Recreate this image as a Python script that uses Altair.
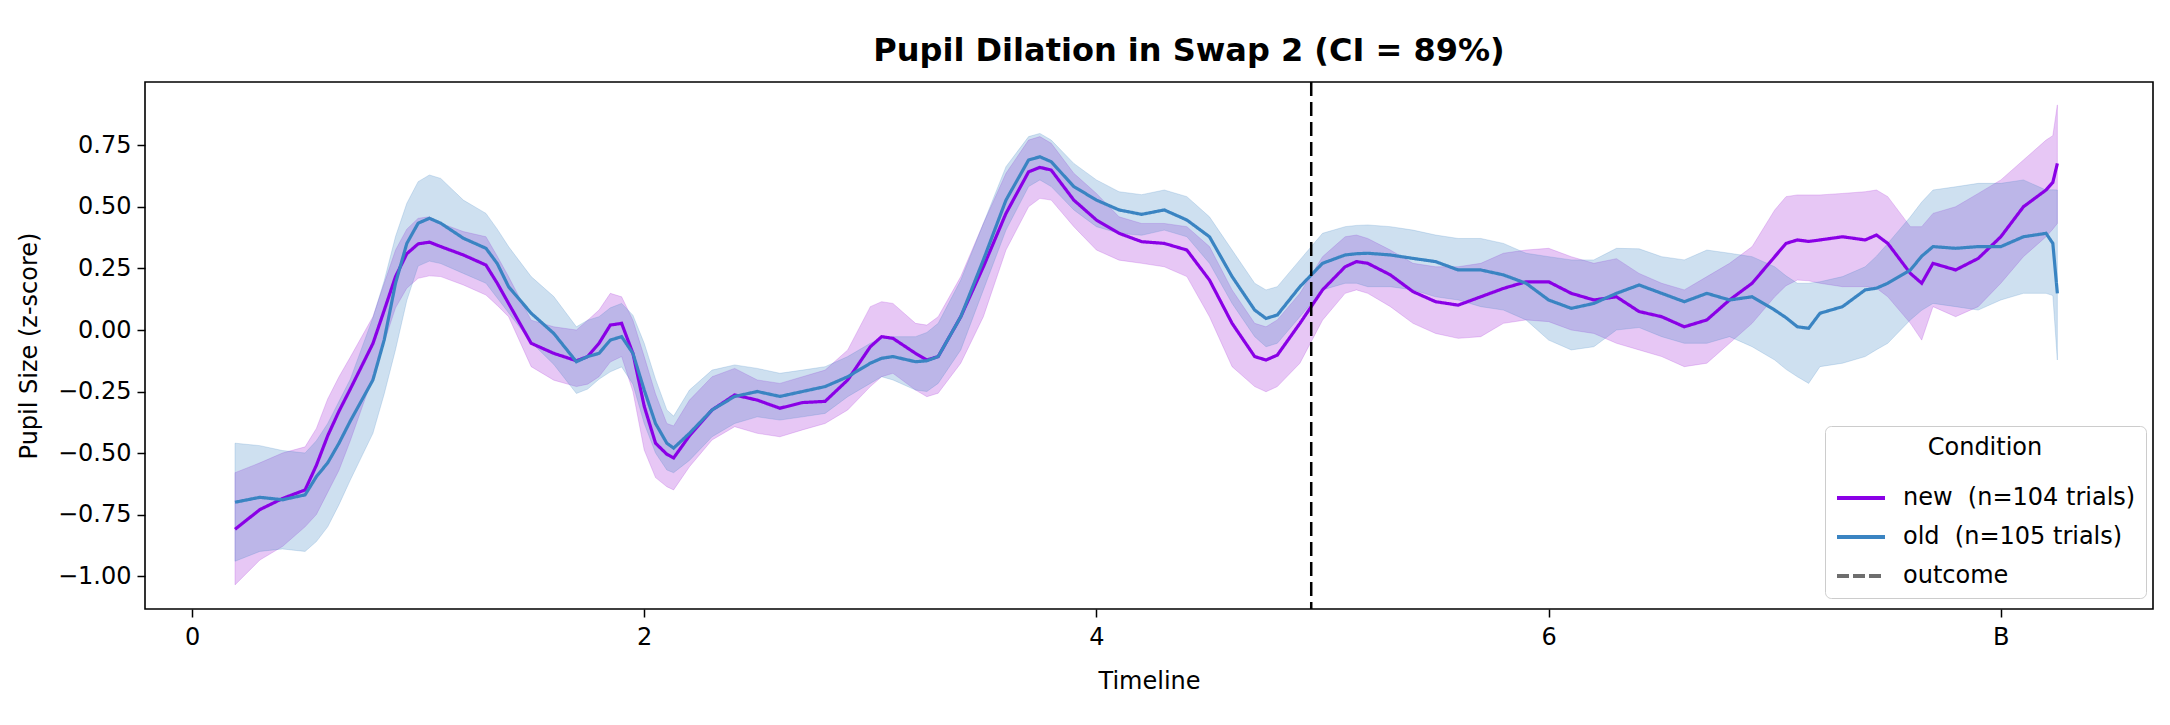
import altair as alt
import pandas as pd

# ---------------- data ----------------
T = [0.19, 0.3, 0.4, 0.5, 0.55, 0.6, 0.65, 0.7, 0.8, 0.85,
     0.9, 0.95, 1.0, 1.05, 1.1, 1.2, 1.3, 1.35, 1.4, 1.5,
     1.6, 1.7, 1.75, 1.8, 1.85, 1.9, 1.95, 2.0, 2.05, 2.1,
     2.13, 2.2, 2.3, 2.4, 2.5, 2.6, 2.7, 2.8, 2.9, 3.0,
     3.05, 3.1, 3.2, 3.25, 3.3, 3.4, 3.5, 3.6, 3.7, 3.75,
     3.8, 3.9, 4.0, 4.1, 4.2, 4.3, 4.4, 4.5, 4.6, 4.7,
     4.75, 4.8, 4.9, 5.0, 5.1, 5.15, 5.2, 5.3, 5.4, 5.5,
     5.6, 5.7, 5.8, 5.9, 6.0, 6.1, 6.2, 6.3, 6.4, 6.5,
     6.6, 6.7, 6.8, 6.9, 7.0, 7.05, 7.1, 7.15, 7.2, 7.3,
     7.4, 7.45, 7.5, 7.6, 7.65, 7.7, 7.8, 7.9, 8.0, 8.1,
     8.2, 8.23, 8.25]

new_mean = [-0.81, -0.73, -0.685, -0.65, -0.55, -0.43, -0.33, -0.24, -0.055, 0.08,
            0.217, 0.31, 0.35, 0.357, 0.339, 0.305, 0.264, 0.19, 0.108, -0.054,
            -0.095, -0.125, -0.108, -0.054, 0.02, 0.027, -0.095, -0.31, -0.46, -0.505,
            -0.52, -0.43, -0.325, -0.264, -0.285, -0.318, -0.295, -0.29, -0.203, -0.068,
            -0.027, -0.034, -0.095, -0.122, -0.108, 0.054, 0.257, 0.474, 0.643, 0.661,
            0.65, 0.528, 0.447, 0.393, 0.359, 0.352, 0.325, 0.203, 0.027, -0.108,
            -0.122, -0.102, 0.027, 0.163, 0.257, 0.278, 0.271, 0.224, 0.156, 0.115,
            0.101, 0.135, 0.169, 0.196, 0.196, 0.149, 0.122, 0.135, 0.075, 0.054,
            0.013, 0.041, 0.122, 0.19, 0.298, 0.352, 0.366, 0.36, 0.366, 0.379,
            0.366, 0.386, 0.352, 0.23, 0.19, 0.271, 0.244, 0.291, 0.379, 0.501,
            0.569, 0.6, 0.677]

new_hi = [-0.58, -0.54, -0.50, -0.475, -0.40, -0.28, -0.19, -0.11, 0.054, 0.19,
          0.325, 0.41, 0.454, 0.46, 0.434, 0.40, 0.379, 0.30, 0.217, 0.04,
          0.013, 0.0, 0.04, 0.081, 0.149, 0.135, 0.04, -0.108, -0.26, -0.38,
          -0.39, -0.285, -0.19, -0.156, -0.203, -0.217, -0.19, -0.163, -0.081, 0.095,
          0.115, 0.108, 0.027, 0.02, 0.054, 0.217, 0.433, 0.637, 0.772, 0.786,
          0.759, 0.637, 0.555, 0.46, 0.433, 0.433, 0.42, 0.339, 0.163, 0.027,
          0.013, 0.041, 0.149, 0.298, 0.379, 0.386, 0.372, 0.325, 0.271, 0.257,
          0.257, 0.271, 0.312, 0.325, 0.332, 0.298, 0.271, 0.29, 0.23, 0.19,
          0.163, 0.217, 0.271, 0.339, 0.488, 0.542, 0.549, 0.549, 0.549, 0.555,
          0.562, 0.569, 0.542, 0.42, 0.42, 0.474, 0.501, 0.555, 0.61, 0.691,
          0.772, 0.79, 0.915]

new_lo = [-1.036, -0.935, -0.88, -0.80, -0.75, -0.66, -0.57, -0.45, -0.19, -0.05,
          0.09, 0.17, 0.21, 0.22, 0.217, 0.183, 0.142, 0.10, 0.054, -0.149,
          -0.204, -0.23, -0.22, -0.19, -0.13, -0.108, -0.25, -0.488, -0.60, -0.637,
          -0.65, -0.556, -0.447, -0.393, -0.42, -0.434, -0.406, -0.38, -0.325, -0.23,
          -0.19, -0.176, -0.244, -0.271, -0.257, -0.135, 0.054, 0.325, 0.501, 0.535,
          0.528, 0.42, 0.325, 0.284, 0.271, 0.257, 0.217, 0.054, -0.149, -0.23,
          -0.251, -0.23, -0.135, 0.04, 0.149, 0.163, 0.149, 0.095, 0.027, -0.014,
          -0.034, -0.027, 0.027, 0.041, 0.034, 0.0, -0.014, -0.054, -0.081, -0.108,
          -0.149, -0.135, -0.054, 0.027, 0.135, 0.18, 0.203, 0.2, 0.19, 0.176,
          0.176, 0.17, 0.135, 0.027, -0.041, 0.095, 0.054, 0.095, 0.19, 0.298,
          0.379, 0.41, 0.433]

old_mean = [-0.70, -0.68, -0.69, -0.67, -0.596, -0.54, -0.46, -0.37, -0.203, -0.04,
            0.19, 0.352, 0.434, 0.454, 0.434, 0.373, 0.332, 0.27, 0.176, 0.068,
            -0.014, -0.129, -0.108, -0.095, -0.041, -0.027, -0.095, -0.244, -0.38, -0.46,
            -0.48, -0.42, -0.325, -0.27, -0.25, -0.27, -0.25, -0.23, -0.19, -0.135,
            -0.115, -0.108, -0.129, -0.125, -0.108, 0.054, 0.285, 0.528, 0.691, 0.704,
            0.684, 0.583, 0.528, 0.488, 0.47, 0.488, 0.447, 0.379, 0.217, 0.081,
            0.047, 0.061, 0.176, 0.271, 0.305, 0.31, 0.312, 0.305, 0.291, 0.278,
            0.244, 0.244, 0.224, 0.19, 0.122, 0.088, 0.108, 0.149, 0.183, 0.149,
            0.115, 0.149, 0.122, 0.135, 0.081, 0.05, 0.013, 0.007, 0.068, 0.095,
            0.163, 0.17, 0.19, 0.244, 0.30, 0.339, 0.332, 0.339, 0.339, 0.379,
            0.393, 0.352, 0.149]

old_hi = [-0.46, -0.47, -0.49, -0.50, -0.45, -0.38, -0.29, -0.2, 0.05, 0.2,
          0.38, 0.515, 0.603, 0.63, 0.616, 0.528, 0.474, 0.41, 0.339, 0.217,
          0.136, 0.013, 0.04, 0.054, 0.09, 0.108, 0.06, -0.054, -0.2, -0.325,
          -0.35, -0.244, -0.163, -0.142, -0.156, -0.176, -0.163, -0.149, -0.108, -0.054,
          -0.035, -0.027, -0.027, -0.01, 0.027, 0.203, 0.433, 0.664, 0.786, 0.799,
          0.772, 0.677, 0.61, 0.562, 0.55, 0.569, 0.542, 0.46, 0.325, 0.19,
          0.163, 0.176, 0.285, 0.393, 0.42, 0.425, 0.427, 0.42, 0.406, 0.386,
          0.372, 0.372, 0.352, 0.312, 0.298, 0.285, 0.285, 0.332, 0.33, 0.298,
          0.285, 0.325, 0.312, 0.298, 0.257, 0.22, 0.19, 0.19, 0.196, 0.217,
          0.257, 0.3, 0.352, 0.46, 0.52, 0.569, 0.582, 0.596, 0.596, 0.61,
          0.569, 0.57, 0.569]

old_lo = [-0.94, -0.90, -0.89, -0.90, -0.86, -0.80, -0.71, -0.61, -0.42, -0.26,
          -0.08, 0.12, 0.26, 0.28, 0.27, 0.23, 0.19, 0.13, 0.07, -0.05,
          -0.14, -0.258, -0.24, -0.2, -0.17, -0.15, -0.22, -0.38, -0.5, -0.569,
          -0.58, -0.53, -0.434, -0.38, -0.353, -0.366, -0.353, -0.339, -0.271, -0.217,
          -0.19, -0.203, -0.244, -0.25, -0.217, -0.081, 0.163, 0.406, 0.583, 0.61,
          0.583, 0.488, 0.42, 0.393, 0.385, 0.406, 0.379, 0.271, 0.108, -0.027,
          -0.068, -0.054, 0.054, 0.163, 0.19, 0.19, 0.176, 0.176, 0.163, 0.135,
          0.122, 0.095, 0.081, 0.041, -0.041, -0.081, -0.068, 0.0, 0.01, -0.027,
          -0.054, -0.054, -0.027, -0.068, -0.122, -0.16, -0.19, -0.217, -0.149, -0.135,
          -0.108, -0.08, -0.054, 0.041, 0.08, 0.108, 0.095, 0.081, 0.122, 0.149,
          0.149, 0.14, -0.122]

outcome_t = [4.95]

LAB_NEW = "new\u00a0 (n=104 trials)"
LAB_OLD = "old\u00a0 (n=105 trials)"
LAB_OUT = "outcome"
labels = [LAB_NEW, LAB_OLD, LAB_OUT]
line_colors = ["#8a00e6", "#3a84c2", "#6e6e6e"]
band_new_color = "#a020d8"
band_old_color = "#3a84c2"

x_ticks = [0, 2, 4, 6, 8]
y_ticks = [-1.0, -0.75, -0.5, -0.25, 0.0, 0.25, 0.5, 0.75]

# ---------------- frames ----------------
new_df = pd.DataFrame({"t": T, "mean": new_mean, "lo": new_lo, "hi": new_hi, "label": LAB_NEW})
old_df = pd.DataFrame({"t": T, "mean": old_mean, "lo": old_lo, "hi": old_hi, "label": LAB_OLD})
lines_df = pd.concat([new_df, old_df], ignore_index=True)
rule_df = pd.DataFrame({"t": outcome_t})

FONT = "DejaVu Sans"

xscale = alt.Scale(domain=[-0.208, 8.673], nice=False, zero=False)
yscale = alt.Scale(domain=[-1.134, 1.008], nice=False, zero=False)

xaxis = alt.Axis(values=x_ticks, format="d",
                 labelExpr="datum.value == 8 ? 'B' : datum.label",
                 title="Timeline", grid=False, domain=False,
                 tickSize=8, tickWidth=1.5, tickColor="black",
                 labelFontSize=24, titleFontSize=24, titleFontWeight="normal",
                 labelFont=FONT, titleFont=FONT, labelColor="black", titleColor="black",
                 labelPadding=8, titlePadding=20)
yaxis = alt.Axis(values=y_ticks, format=".2f",
                 title="Pupil Size (z-score)", grid=False, domain=False,
                 tickSize=8, tickWidth=1.5, tickColor="black",
                 labelFontSize=24, titleFontSize=24, titleFontWeight="normal",
                 labelFont=FONT, titleFont=FONT, labelColor="black", titleColor="black",
                 labelPadding=6, titlePadding=16)

legend = alt.Legend(title="Condition", orient="none", legendX=1680, legendY=344,
                    symbolType="stroke", symbolSize=2304, symbolStrokeWidth=4,
                    labelFontSize=24, titleFontSize=24, titleFontWeight="normal",
                    labelFont=FONT, titleFont=FONT, labelColor="black", titleColor="black",
                    titleAnchor="middle", titleAlign="center", labelLimit=0,
                    fillColor="white", strokeColor="#cccccc", cornerRadius=6,
                    padding=10, rowPadding=1, labelOffset=16, titlePadding=12)

color_enc = alt.Color("label:N", scale=alt.Scale(domain=labels, range=line_colors), legend=legend)
dash_enc = alt.StrokeDash("label:N",
                          scale=alt.Scale(domain=labels, range=[[1, 0], [1, 0], [12, 4]]),
                          legend=legend)

band_new = alt.Chart(new_df).mark_area(color=band_new_color, fillOpacity=0.25,
                                       stroke=band_new_color, strokeOpacity=0.2, strokeWidth=1).encode(
    x=alt.X("t:Q", scale=xscale, axis=xaxis),
    y=alt.Y("lo:Q", scale=yscale, axis=yaxis),
    y2="hi:Q")
band_old = alt.Chart(old_df).mark_area(color=band_old_color, fillOpacity=0.25,
                                       stroke=band_old_color, strokeOpacity=0.2, strokeWidth=1).encode(
    x=alt.X("t:Q", scale=xscale),
    y=alt.Y("lo:Q", scale=yscale),
    y2="hi:Q")
lines = alt.Chart(lines_df).mark_line(strokeWidth=3.2).encode(
    x=alt.X("t:Q", scale=xscale),
    y=alt.Y("mean:Q", scale=yscale),
    color=color_enc,
    strokeDash=dash_enc,
    order=alt.Order("t:Q"))
rule = alt.Chart(rule_df).mark_rule(color="black", strokeWidth=2.5, strokeDash=[14, 6]).encode(
    x=alt.X("t:Q", scale=xscale))

chart = alt.layer(band_new, band_old, lines, rule).properties(
    width=2008, height=527,
    title=alt.TitleParams("Pupil Dilation in Swap 2 (CI = 89%)", font=FONT, fontSize=32,
                          fontWeight="bold", color="black", anchor="middle", dx=40, offset=13),
    padding={"left": 137, "top": 74, "right": 9, "bottom": 110},
    autosize="none",
    background="white",
).configure_view(stroke="black", strokeWidth=1.6)

chart.save("out.html", embed_options={"renderer": "svg", "actions": False})
